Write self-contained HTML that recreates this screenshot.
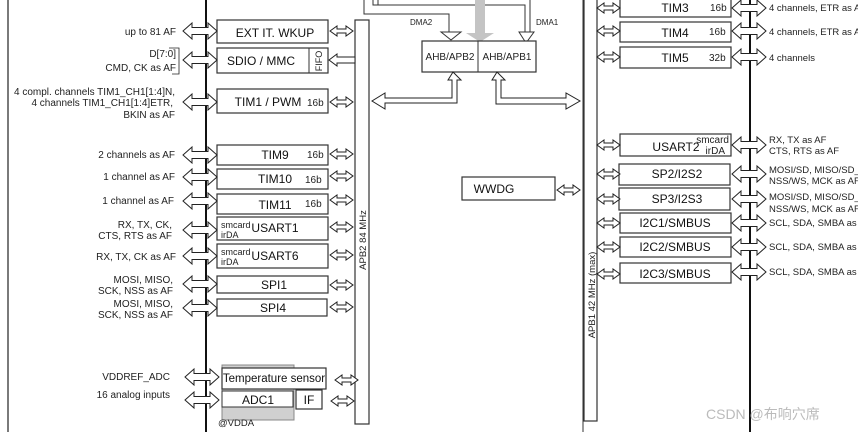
<!DOCTYPE html>
<html><head><meta charset="utf-8"><style>
html,body{margin:0;padding:0;background:#fff;}
svg{display:block;font-family:"Liberation Sans",Arial,sans-serif;}
.b{fill:#fff;stroke:#333;stroke-width:1.2;}
.t{font-size:12px;fill:#111;text-anchor:middle;}
.s{font-size:10px;fill:#222;}
.l{font-size:10px;fill:#222;text-anchor:end;}
.r{font-size:9.5px;fill:#222;}
</style></head><body>
<svg width="858" height="432" viewBox="0 0 858 432" xmlns="http://www.w3.org/2000/svg">
<defs>
<polygon id="sa" points="0,0 7,-5 7,-2 16,-2 16,-5 23,0 16,5 16,2 7,2 7,5" fill="#fff" stroke="#222" stroke-width="1"/>
<polygon id="ba" points="0,0 9,-8 9,-3.5 25,-3.5 25,-8 34,0 25,8 25,3.5 9,3.5 9,8" fill="#fff" stroke="#222" stroke-width="1"/>
</defs>
<line x1="8" y1="0" x2="8" y2="432" stroke="#222" stroke-width="1.2"/>
<line x1="206" y1="0" x2="206" y2="432" stroke="#111" stroke-width="2"/>
<line x1="750" y1="0" x2="750" y2="432" stroke="#111" stroke-width="2"/>
<line x1="583" y1="0" x2="583" y2="432" stroke="#333" stroke-width="1"/>
<rect x="355" y="20" width="14" height="404" class="b"/>
<text transform="translate(366,240) rotate(-90)" style="font-size:9.5px;fill:#222;text-anchor:middle">APB2 84 MHz</text>
<rect x="584" y="-2" width="13" height="423" class="b"/>
<text transform="translate(595,295) rotate(-90)" style="font-size:9.5px;fill:#222;text-anchor:middle">APB1 42 MHz (max)</text>

<polyline points="364,0 364,14 449,14 449,32" fill="none" stroke="#333" stroke-width="1"/>
<polyline points="373,0 373,5 525,5 525,32" fill="none" stroke="#333" stroke-width="1"/>
<polyline points="378,0 378,5" fill="none" stroke="#333" stroke-width="1"/>
<polyline points="530,0 530,32" fill="none" stroke="#333" stroke-width="1"/>
<polygon points="441,32 461,32 451,40" fill="#fff" stroke="#333"/>
<polygon points="519,32 534,32 526,43" fill="#fff" stroke="#333"/>
<rect x="475" y="0" width="10" height="33" fill="#c4c4c4"/>
<polygon points="466,33 494,33 480,42" fill="#c4c4c4"/>
<text x="410" y="25" style="font-size:8px;fill:#222">DMA2</text>
<text x="536" y="25" style="font-size:8px;fill:#222">DMA1</text>
<rect x="422" y="41" width="114" height="31" class="b"/>
<line x1="478" y1="41" x2="478" y2="72" stroke="#333"/>
<text x="450" y="60" class="s" style="text-anchor:middle">AHB/APB2</text>
<text x="507" y="60" class="s" style="text-anchor:middle">AHB/APB1</text>
<polygon points="453,72 461,80 457,80 457,103 385,103 385,109 372,101 385,93 385,98 452,98 452,80 448,80" fill="#fff" stroke="#222"/>
<polygon points="497,72 505,80 501,80 501,98 566,98 566,93 580,101 566,109 566,104 496,104 496,80 492,80" fill="#fff" stroke="#222"/>
<rect x="462" y="177" width="93" height="23" class="b"/>
<text x="494" y="193" class="t" style="text-anchor:middle">WWDG</text>
<use href="#sa" x="557" y="190"/>

<rect x="217" y="20" width="111" height="23" class="b"/><text x="275" y="37" class="t">EXT IT. WKUP</text>
<rect x="217" y="48" width="111" height="25" class="b"/><line x1="309" y1="48" x2="309" y2="73" stroke="#333"/>
<text x="261" y="65" class="t">SDIO / MMC</text>
<text transform="translate(322,61) rotate(-90)" style="font-size:9px;fill:#222;text-anchor:middle">FIFO</text>
<rect x="217" y="89" width="111" height="24" class="b"/><text x="268" y="106" class="t">TIM1 / PWM</text><text x="307" y="106" class="s">16b</text>
<rect x="217" y="145" width="111" height="20" class="b"/><text x="275" y="159" class="t">TIM9</text><text x="307" y="158" class="s">16b</text>
<rect x="217" y="169" width="111" height="20" class="b"/><text x="275" y="183" class="t">TIM10</text><text x="305" y="183" class="s">16b</text>
<rect x="217" y="194" width="111" height="20" class="b"/><text x="275" y="209" class="t">TIM11</text><text x="305" y="207" class="s">16b</text>
<rect x="217" y="217" width="111" height="23" class="b"/><text x="221" y="228" style="font-size:9px;fill:#222">smcard</text><text x="221" y="238" style="font-size:9px;fill:#222">irDA</text><text x="275" y="232" class="t">USART1</text>
<rect x="217" y="244" width="111" height="24" class="b"/><text x="221" y="255" style="font-size:9px;fill:#222">smcard</text><text x="221" y="265" style="font-size:9px;fill:#222">irDA</text><text x="275" y="260" class="t">USART6</text>
<rect x="217" y="276" width="111" height="17" class="b"/><text x="274" y="289" class="t">SPI1</text>
<rect x="217" y="299" width="110" height="17" class="b"/><text x="273" y="312" class="t">SPI4</text>
<rect x="222" y="365" width="72" height="55" fill="#d0d0d0" stroke="#888"/>
<rect x="222" y="368" width="104" height="21" class="b"/><text x="274" y="382" class="t" style="font-size:11.5px">Temperature sensor</text>
<rect x="222" y="391" width="71" height="16" fill="#fff" stroke="#333"/><text x="258" y="404" class="t">ADC1</text>
<rect x="296" y="390" width="26" height="19" class="b"/><text x="309" y="404" class="t">IF</text>
<text x="218" y="426" style="font-size:9.5px;fill:#222">@VDDA</text>

<use href="#ba" x="183" y="31"/><use href="#ba" x="183" y="60"/><use href="#ba" x="183" y="102"/>
<use href="#ba" x="183" y="155"/><use href="#ba" x="183" y="177"/><use href="#ba" x="183" y="201"/>
<use href="#ba" x="183" y="230"/><use href="#ba" x="183" y="256"/><use href="#ba" x="183" y="284"/>
<use href="#ba" x="183" y="308"/><use href="#ba" x="185" y="377"/><use href="#ba" x="185" y="400"/>
<use href="#sa" x="330" y="31"/><use href="#sa" x="330" y="102"/><use href="#sa" x="330" y="154"/>
<use href="#sa" x="330" y="176"/><use href="#sa" x="330" y="200"/><use href="#sa" x="330" y="227"/>
<use href="#sa" x="330" y="255"/><use href="#sa" x="330" y="285"/><use href="#sa" x="330" y="307"/>
<use href="#sa" x="335" y="380"/><use href="#sa" x="331" y="401"/>
<polygon points="329,60 337,54 337,57 355,57 355,63 337,63 337,66" fill="#fff" stroke="#222"/>

<text x="176" y="35" class="l">up to 81 AF</text>
<text x="176" y="57" class="l">D[7:0]</text>
<text x="176" y="71" class="l">CMD, CK as AF</text>
<polyline points="169,48 179,48 179,74 172,74" fill="none" stroke="#222" stroke-width="0.8"/>
<text x="175" y="95" class="l">4 compl. channels TIM1_CH1[1:4]N,</text>
<text x="173" y="106" class="l">4 channels TIM1_CH1[1:4]ETR,</text>
<text x="175" y="118" class="l">BKIN as AF</text>
<text x="175" y="158" class="l">2 channels as AF</text>
<text x="175" y="180" class="l">1 channel as AF</text>
<text x="174" y="204" class="l">1 channel as AF</text>
<text x="172" y="228" class="l">RX, TX, CK,</text>
<text x="172" y="239" class="l">CTS, RTS as AF</text>
<text x="176" y="260" class="l">RX, TX, CK as AF</text>
<text x="173" y="283" class="l">MOSI, MISO,</text>
<text x="173" y="294" class="l">SCK, NSS as AF</text>
<text x="173" y="307" class="l">MOSI, MISO,</text>
<text x="173" y="318" class="l">SCK, NSS as AF</text>
<text x="170" y="380" class="l">VDDREF_ADC</text>
<text x="170" y="398" class="l">16 analog inputs</text>

<rect x="620" y="-3" width="111" height="20" class="b"/><text x="675" y="12" class="t">TIM3</text><text x="710" y="11" class="s">16b</text>
<rect x="620" y="22" width="111" height="20" class="b"/><text x="675" y="37" class="t">TIM4</text><text x="709" y="35" class="s">16b</text>
<rect x="620" y="47" width="111" height="21" class="b"/><text x="675" y="62" class="t">TIM5</text><text x="709" y="61" class="s">32b</text>
<rect x="620" y="134" width="111" height="22" class="b"/><text x="676" y="151" class="t">USART2</text><text x="729" y="143" class="s" style="text-anchor:end">smcard</text><text x="725" y="154" class="s" style="text-anchor:end">irDA</text>
<rect x="619" y="164" width="111" height="21" class="b"/><text x="677" y="178" class="t">SP2/I2S2</text>
<rect x="619" y="188" width="111" height="22" class="b"/><text x="677" y="203" class="t">SP3/I2S3</text>
<rect x="620" y="213" width="111" height="20" class="b"/><text x="675" y="227" class="t">I2C1/SMBUS</text>
<rect x="620" y="237" width="111" height="20" class="b"/><text x="675" y="251" class="t">I2C2/SMBUS</text>
<rect x="620" y="263" width="111" height="20" class="b"/><text x="675" y="278" class="t">I2C3/SMBUS</text>
<use href="#sa" x="597" y="8"/><use href="#sa" x="597" y="31"/><use href="#sa" x="597" y="57"/>
<use href="#sa" x="597" y="145"/><use href="#sa" x="597" y="174"/><use href="#sa" x="597" y="199"/>
<use href="#sa" x="597" y="223"/><use href="#sa" x="597" y="247"/><use href="#sa" x="597" y="274"/>
<use href="#ba" x="732" y="8"/><use href="#ba" x="732" y="31"/><use href="#ba" x="732" y="57"/>
<use href="#ba" x="732" y="145"/><use href="#ba" x="732" y="174"/><use href="#ba" x="732" y="199"/>
<use href="#ba" x="732" y="223"/><use href="#ba" x="732" y="247"/><use href="#ba" x="732" y="272"/>
<text x="769" y="11" class="r">4 channels, ETR as AF</text>
<text x="769" y="35" class="r">4 channels, ETR as AF</text>
<text x="769" y="61" class="r">4 channels</text>
<text x="769" y="143" class="r">RX, TX as AF</text>
<text x="769" y="154" class="r">CTS, RTS as AF</text>
<text x="769" y="173" class="r">MOSI/SD, MISO/SD_ext, SCK/CK</text>
<text x="769" y="184" class="r">NSS/WS, MCK as AF</text>
<text x="769" y="200" class="r">MOSI/SD, MISO/SD_ext, SCK/CK</text>
<text x="769" y="212" class="r">NSS/WS, MCK as AF</text>
<text x="769" y="226" class="r">SCL, SDA, SMBA as AF</text>
<text x="769" y="250" class="r">SCL, SDA, SMBA as AF</text>
<text x="769" y="275" class="r">SCL, SDA, SMBA as AF</text>
<text x="706" y="419" style="font-family:'Liberation Sans','Noto Sans CJK SC',sans-serif;font-size:14px;fill:#bbb">CSDN @布响穴席</text>
</svg>
</body></html>
